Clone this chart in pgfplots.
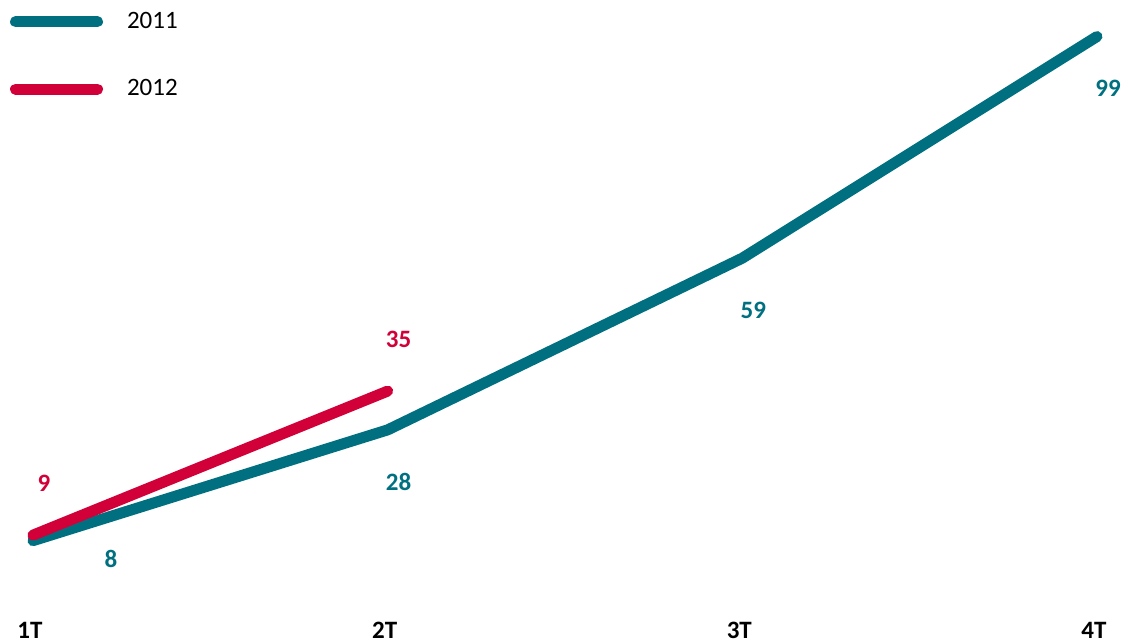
\documentclass[border=0pt]{standalone}
\usepackage{pgfplots}
\pgfplotsset{compat=1.18}
\usepackage{fontspec}
\setmainfont{Carlito}
\definecolor{cA}{RGB}{0,112,128}
\definecolor{cB}{RGB}{210,0,56}
\begin{document}
\begin{tikzpicture}
\begin{axis}[
  scale only axis,
  width=532pt, height=277pt,
  xmin=0, xmax=3, ymin=0, ymax=100,
  clip=false,
  /pgf/number format/assume math mode=true,
  axis line style={draw=none},
  xtick={0,1,2,3},
  xticklabels={1T,2T,3T,4T},
  ytick=\empty,
  major tick length=0pt,
  xtick style={draw=none},
  xticklabel style={font=\fontsize{12.5}{14}\selectfont\bfseries, anchor=north, inner sep=0pt, yshift=-18.5pt, xshift=-1.5pt},
  legend style={at={(rel axis cs:-0.0216,1.0341)}, anchor=north west, draw=none, fill=none,
    inner sep=0pt, outer sep=0pt, row sep=24.1pt, column sep=12pt,
    nodes={inner sep=0pt, anchor=west}, font=\fontsize{12.5}{14}\selectfont},
  legend cell align=left,
  legend image code/.code={%
    \path[draw=none, fill=none] (-2.75pt,-2.75pt) rectangle (43.75pt,2.75pt);
    \draw[#1, line width=5.5pt, line cap=round] (0pt,0pt) -- (41pt,0pt);},
]
\coordinate (O) at (rel axis cs:0,0);
\addplot[cA, line width=5.5pt, line cap=round, line join=round, mark=none,
  nodes near coords,
  nodes near coords style={font=\fontsize{12.5}{14}\selectfont\bfseries, text=cA, anchor=center, inner sep=0pt, xshift=5.5pt, yshift=-26pt},
  coordinate style/.condition={\coordindex==0}{xshift=33.5pt, yshift=17pt}]
  coordinates {(0,8) (1,28) (2,59) (3,99)};
\addlegendentry{2011}
\addplot[cB, line width=5.5pt, line cap=round, line join=round, mark=none,
  nodes near coords,
  nodes near coords style={font=\fontsize{12.5}{14}\selectfont\bfseries, text=cB, anchor=center, inner sep=0pt, xshift=5.5pt, yshift=26pt}]
  coordinates {(0,9) (1,35)};
\addlegendentry{2012}
\end{axis}
\pgfresetboundingbox
\path[use as bounding box] ([shift={(-16.5pt,-28.5pt)}]O) rectangle ([shift={(544pt,292.5pt)}]O);
\end{tikzpicture}
\end{document}
